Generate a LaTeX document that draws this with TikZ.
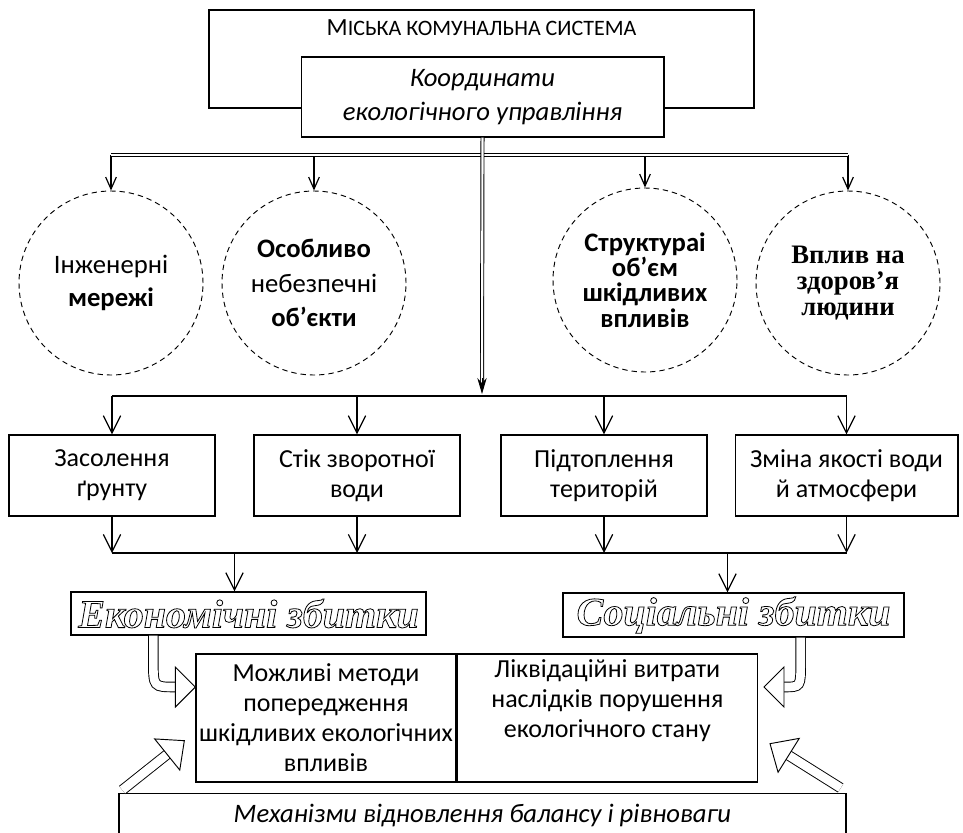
\documentclass[tikz,border=0pt]{standalone}
\usepackage{fontspec}
\setmainfont{Carlito}
\newfontfamily\timesfont{Liberation Serif}
\usetikzlibrary{arrows.meta,positioning,calc}

% outlined lettering for the two damage labels
\newcommand{\outlinetext}[1]{\special{pdf:literal direct 0.6 w 1 Tr}#1\special{pdf:literal direct 0 Tr}}

\tikzset{
  box/.style={draw, line width=1pt, align=center, inner sep=0pt},
  ring/.style={draw, circle, dash pattern=on 4pt off 3pt, line width=0.7pt,
    minimum size=138pt, align=center, inner sep=0pt},
  bus/.style={double, double distance=1.6pt, line width=0.7pt},
  tipsmall/.style={-{Straight Barb[length=9pt,width=8pt]}, line width=0.9pt},
  tipbig/.style={-{Straight Barb[length=13pt,width=13pt]}, line width=0.9pt},
  hollow/.style={double, double distance=6.5pt, line width=0.7pt},
  hollowtip/.style={fill=white, line width=0.7pt, line join=miter}
}

\begin{document}
\begin{tikzpicture}[x=0.75pt, y=-0.75pt,
    every node/.style={font=\fontsize{19.5}{22.5}\selectfont}]
    \useasboundingbox (0,0) rectangle (963,832);
    \clip (0,0) rectangle (963,832);

    % City system and coordination box
    \node[box, minimum width=408.75pt, minimum height=73.5pt] (sys) at (481.5,59) {};
    \node (systxt) at (481.5,28) {{\fontsize{18.5}{18}\selectfont М}{\fontsize{16.5}{18}\selectfont ІСЬКА КОМУНАЛЬНА СИСТЕМА}};
    \node[box, fill=white, minimum width=272pt, minimum height=60pt,
      font=\fontsize{20}{25.5}\selectfont\itshape] (coord) at (482.5,97)
      {Координати\\екологічного управління};

    % Circles of influence
    \node[ring, font=\fontsize{20}{25}\selectfont] (c1) at (111,283) {Інженерні\\\textbf{мережі}};
    \node[ring, font=\fontsize{20}{26}\selectfont] (c2) at (314,283) {\textbf{Особливо}\\небезпечні\\\textbf{об’єкти}};
    \node[ring, font=\fontsize{20}{19}\selectfont\bfseries] (c3) at (645,280) {Структураі\\об’єм\\шкідливих\\впливів};
    \node[ring, font=\fontsize{20}{19.5}\selectfont\timesfont\bfseries] (c4) at (848,283) {Вплив на\\здоров’я\\людини};

    % Upper bus
    \coordinate (hub0) at (482,155);
    \foreach \c in {c1,c2,c3,c4}
      \draw[tipsmall] (\c.north |- hub0) -- (\c.north);
    \draw[bus] (c1.north |- hub0) -- (c4.north |- hub0);

    % Consequence boxes
    \node[box, minimum width=154.5pt, minimum height=60.75pt] (b1) at (112,475.5) {Засолення\\ґрунту};
    \node[box, minimum width=154.5pt, minimum height=60.75pt] (b2) at (357,475.5) {Стік зворотної\\води};
    \node[box, minimum width=154.5pt, minimum height=60.75pt] (b3) at (604,475.5) {Підтоплення\\територій};
    \node[box, minimum width=167pt, minimum height=60.75pt] (b4) at (846.5,475.5) {Зміна якості води\\й атмосфери};

    % Trunk and lower buses
    \coordinate (hub) at (482,396);
    \coordinate (hub2) at (482,553);
    \draw[bus] (coord.south) -- ($(hub)+(0,-14)$);
    \draw[-{Stealth[length=12pt,width=7pt]}, line width=0.7pt] ($(hub)+(0,-18)$) -- ($(hub)+(0,-2)$);
    \draw[line width=0.9pt] (b1.north |- hub) -- (b4.north |- hub);
    \draw[line width=0.9pt] (b1.south |- hub2) -- (b4.south |- hub2);
    \foreach \b in {b1,b2,b3,b4} {
      \draw[tipbig] (\b.north |- hub) -- (\b.north);
      \draw[tipbig] (\b.south) -- (\b.south |- hub2);
    }

    % Damages
    \node[box, minimum width=266.25pt, minimum height=32.25pt,
      font=\fontsize{30}{30}\selectfont\timesfont\bfseries\itshape] (econ) at (248.5,613.5)
      {\outlinetext{Економічні збитки}};
    \node[box, minimum width=255.75pt, minimum height=33pt,
      font=\fontsize{30}{30}\selectfont\timesfont\bfseries\itshape] (social) at (733.5,615)
      {\outlinetext{Соціальні збитки}};
    \coordinate (econin) at ($(econ.north)+(-14,0)$);
    \coordinate (socin) at ($(social.north)+(-6,0)$);
    \draw[tipbig] (econin |- hub2) -- (econin);
    \draw[tipbig] (socin |- hub2) -- (socin);

    % Methods and costs
    \node[box, minimum width=195pt, minimum height=96pt] (m1) at (326,718)
      {Можливі методи\\попередження\\шкідливих екологічних\\впливів};
    \node[box, minimum width=225pt, minimum height=96pt, anchor=west] (m2) at (m1.east)
      {Ліквідаційні витрати\\наслідків порушення\\екологічного стану\\\strut};

    % Restoration mechanisms
    \node[box, minimum width=545.25pt, minimum height=33pt, anchor=north, font=\fontsize{20}{22.5}\selectfont\itshape]
      (mech) at (482.5,793) {Механізми відновлення балансу і рівноваги};

    % Hollow arrows
    \coordinate (hlS) at ($(econ.south west)+(83,0)$);
    \coordinate (hlT) at ($(m1.west)+(0,-31)$);
    \draw[hollow] (hlS) -- ++(0,25) .. controls (hlS |- hlT) .. ($(hlT)+(-20,0)$);
    \draw[hollowtip, shift={(hlT)}] (0,0) -- (-20,20) -- (-20,-20) -- cycle;

    \coordinate (hrS) at ($(social.south east)+(-104,0)$);
    \coordinate (hrT) at ($(m2.east)+(6,-31)$);
    \draw[hollow] (hrS) -- ++(0,25) .. controls (hrS |- hrT) .. ($(hrT)+(20,0)$);
    \draw[hollowtip, shift={(hrT)}, rotate=180] (0,0) -- (-20,20) -- (-20,-20) -- cycle;

    \coordinate (dlS) at ($(mech.north west)+(4,-3)$);
    \coordinate (dlT) at ($(m1.south west)+(-11,-42)$);
    \draw[hollow] (dlS) -- ($(dlT)!16.5pt!(dlS)$);
    \draw[hollowtip, shift={(dlT)}, rotate=38.9] (0,0) -- (-22,20) -- (-22,-20) -- cycle;

    \coordinate (drS) at ($(mech.north east)+(-6,-5)$);
    \coordinate (drT) at ($(m2.south east)+(12,-39)$);
    \draw[hollow] (drS) -- ($(drT)!16.5pt!(drS)$);
    \draw[hollowtip, shift={(drT)}, rotate=148] (0,0) -- (-22,20) -- (-22,-20) -- cycle;
\end{tikzpicture}
\end{document}
